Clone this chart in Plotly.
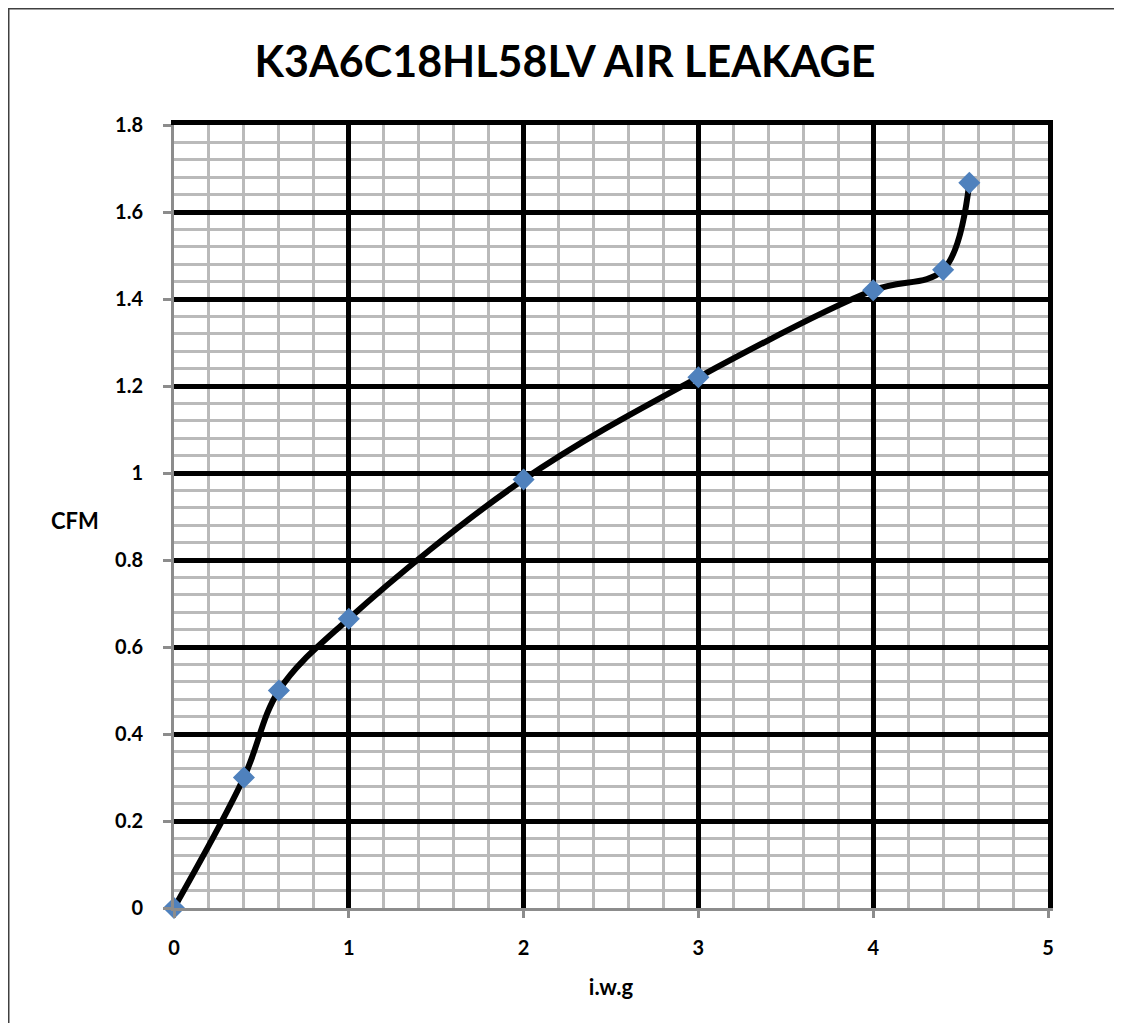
import plotly.graph_objects as go

pressure_iwg = [0, 0.4, 0.6, 1, 2, 3, 4, 4.4, 4.55]
leakage_cfm = [0, 0.30, 0.50, 0.665, 0.985, 1.22, 1.42, 1.467, 1.667]

x_range = [0, 5]
y_range = [0, 1.8]

title_text = "K3A6C18HL58LV AIR LEAKAGE"
x_title = "i.w.g"
y_title = "CFM"

font_family = "Lato, 'Open Sans', Arial, sans-serif"

W, H = 1122, 1023
ML, MT, PW, PH = 166, 117, 874, 783
MR = W - ML - PW
MB = H - MT - PH

fig = go.Figure()
fig.add_trace(go.Scatter(
    x=pressure_iwg, y=leakage_cfm, mode="lines+markers",
    line=dict(color="black", width=6, shape="spline", smoothing=1),
    marker=dict(symbol="diamond", size=17, color="#4F81BD"),
    showlegend=False, cliponaxis=False, hoverinfo="x+y",
))
# invisible helper trace so the black top/right frame axes are drawn
fig.add_trace(go.Scatter(
    x=pressure_iwg, y=leakage_cfm, xaxis="x2", yaxis="y2", mode="markers",
    marker=dict(opacity=0), showlegend=False, hoverinfo="skip",
))

fig.update_layout(
    width=W, height=H,
    margin=dict(l=ML, r=MR, t=MT, b=MB),
    paper_bgcolor="white", plot_bgcolor="white",
    title=dict(text=f"<b>{title_text}</b>", x=557 / W, xanchor="center",
               y=1 - 54 / H, yanchor="middle",
               font=dict(family=font_family, size=43, color="black")),
    font=dict(family=font_family, color="black"),
    xaxis2=dict(overlaying="x", side="top", anchor="y", range=x_range,
                showgrid=False, zeroline=False, showticklabels=False, ticks="",
                showline=True, linecolor="black", linewidth=5),
    yaxis2=dict(overlaying="y", side="right", anchor="x", range=y_range,
                showgrid=False, zeroline=False, showticklabels=False, ticks="",
                showline=True, linecolor="black", linewidth=5),
)

fig.layout.xaxis.update(
    range=x_range, dtick=1, tick0=0,
    showgrid=True, gridcolor="black", gridwidth=5,
    minor=dict(dtick=0.2, showgrid=True, gridcolor="#BABABA", gridwidth=3),
    showline=True, linecolor="#8C8C8C", linewidth=3,
    ticks="outside", ticklen=7, tickcolor="#8C8C8C", tickwidth=3,
    tickfont=dict(size=20, family=font_family, weight="bold"), ticklabelstandoff=13,
    title=dict(text=f"<b>{x_title}</b>", font=dict(size=22), standoff=22),
    zeroline=False,
)
fig.layout.yaxis.update(
    range=y_range, dtick=0.2, tick0=0,
    showgrid=True, gridcolor="black", gridwidth=5,
    minor=dict(dtick=0.04, showgrid=True, gridcolor="#BABABA", gridwidth=3),
    showline=True, linecolor="#8C8C8C", linewidth=3,
    ticks="outside", ticklen=8, tickcolor="#8C8C8C", tickwidth=3,
    tickfont=dict(size=20, family=font_family, weight="bold"), ticklabelstandoff=16,
    zeroline=False,
)

fig.add_annotation(text=f"<b>{y_title}</b>", xref="paper", yref="paper",
                   x=(67 - ML) / PW, y=(PH + MT - 512) / PH,
                   xanchor="center", yanchor="middle", showarrow=False,
                   font=dict(size=22, family=font_family, color="black"))

# outer chart frame (only left/top edges visible in the window)
fig.add_shape(type="rect", xref="paper", yref="paper",
              x0=-(ML - 0.5) / PW, x1=1.3, y0=-0.4, y1=1 + (MT - 0.5) / PH,
              line=dict(color="#404040", width=2), layer="below")

fig.write_html("out.html")
